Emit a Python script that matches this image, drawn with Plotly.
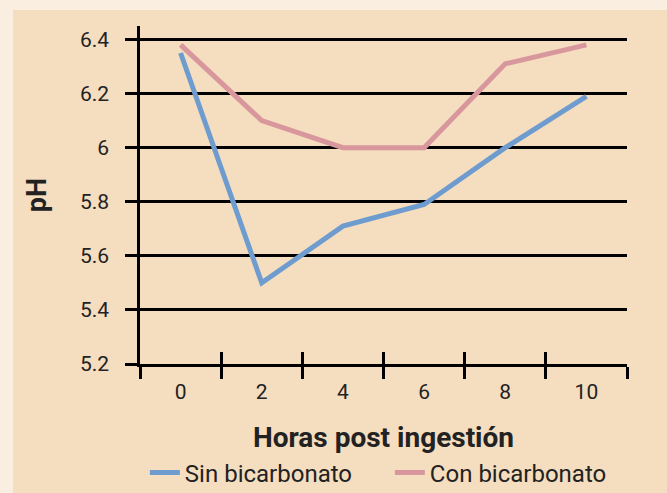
import plotly.graph_objects as go

horas = ["0", "2", "4", "6", "8", "10"]
sin_bicarbonato = [6.35, 5.50, 5.71, 5.79, 6.00, 6.19]
con_bicarbonato = [6.38, 6.10, 6.00, 6.00, 6.31, 6.38]

W, H = 667, 493
ML, MR, MT, MB = 140, 40, 26, 129
PW, PH = W - ML - MR, H - MT - MB

CREAM = "#faeee1"
TAN = "#f5ddbf"
BLUE = "#6e9ccf"
PINK = "#d8979d"
FONT = "Roboto"
XR = [-0.5, len(horas) - 0.5]

fig = go.Figure()
fig.add_trace(go.Scatter(x=horas, y=sin_bicarbonato, mode="lines", name="Sin bicarbonato",
                         line=dict(color=BLUE, width=5)))
fig.add_trace(go.Scatter(x=horas, y=con_bicarbonato, mode="lines", name="Con bicarbonato",
                         line=dict(color=PINK, width=5)))
# hidden trace so the overlay axis (inner half of crossing ticks) renders
fig.add_trace(go.Scatter(x=horas, y=sin_bicarbonato, mode="lines", xaxis="x2",
                         opacity=0, showlegend=False, hoverinfo="skip"))

fig.update_layout(
    width=W, height=H,
    margin=dict(l=ML, r=MR, t=MT, b=MB, autoexpand=False),
    paper_bgcolor=CREAM,
    plot_bgcolor=TAN,
    font=dict(family=FONT, size=21, color="#222222"),
    shapes=[dict(type="rect", xref="paper", yref="paper", layer="below",
                 x0=(13 - ML) / PW, x1=(W - ML) / PW,
                 y0=-MB / PH, y1=(H - 10 - MB) / PH,
                 fillcolor=TAN, line=dict(width=0))],
    xaxis=dict(type="category", categoryorder="array", categoryarray=horas, range=XR,
               tickson="boundaries", ticks="outside", ticklen=12, tickwidth=2.5,
               tickcolor="black", showline=True, linecolor="black", linewidth=2.5,
               showgrid=False, tickfont=dict(size=21), automargin=False,
               ticklabelstandoff=7,
               title=dict(text="<b>Horas post ingestión</b>", font=dict(size=28), standoff=25)),
    xaxis2=dict(type="category", categoryorder="array", categoryarray=horas, range=XR,
                overlaying="x", tickson="boundaries", ticks="inside",
                ticklen=12, tickwidth=2.5, tickcolor="black", showticklabels=False,
                showgrid=False, showline=False, side="bottom", automargin=False),
    yaxis=dict(range=[5.2, 6.45], tick0=5.2, dtick=0.2, tickformat="~g",
               ticks="outside", ticklen=12, tickwidth=2.5, tickcolor="black",
               showline=True, linecolor="black", linewidth=2.5,
               showgrid=True, gridcolor="black", gridwidth=2.5, zeroline=False,
               ticklabelstandoff=12, tickfont=dict(size=21), automargin=False,
               title=dict(text="<b>pH</b>", font=dict(size=27), standoff=26)),
    legend=dict(orientation="h", x=0.01, xanchor="left", y=-(473 - (H - MB)) / PH,
                yanchor="middle", bgcolor="rgba(0,0,0,0)", font=dict(size=24),
                entrywidth=200, entrywidthmode="pixels"),
    showlegend=True,
)

fig.write_html("out.html", post_script="document.body.style.margin='0';",
               config={"displayModeBar": False})
